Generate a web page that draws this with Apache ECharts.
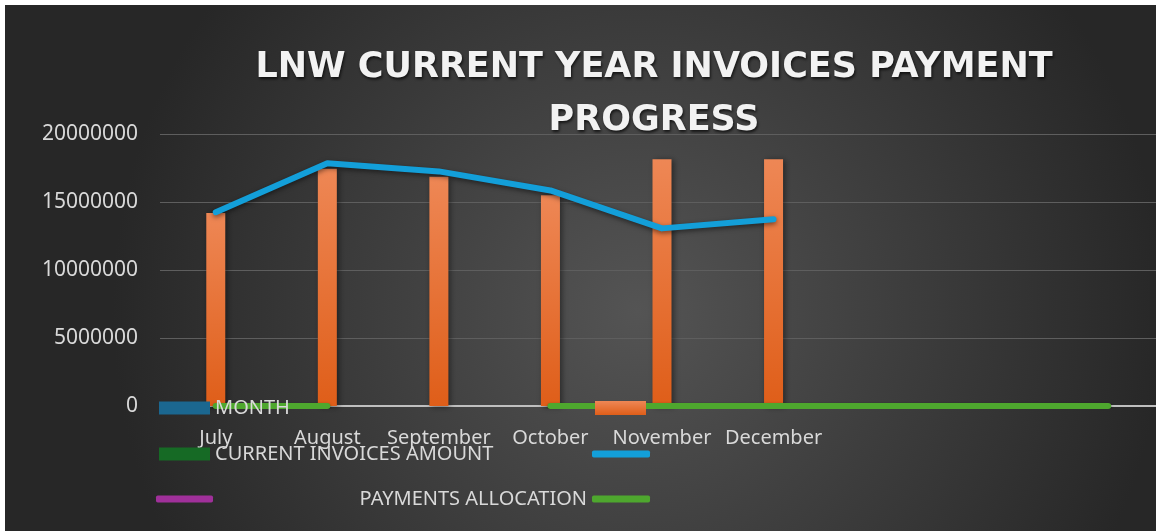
<!DOCTYPE html>
<html lang="en">
  <head>
    <meta charset="UTF-8" />
    <title>LNW Current Year Invoices Payment Progress</title>
    <script src="https://cdn.jsdelivr.net/npm/echarts@6/dist/echarts.min.js"></script>
    <style>
      body { margin: 0; background: #fff; }
      #chart { position: absolute; left: 5px; top: 5px; width: 1151px; height: 526px; }
    </style>
  </head>
  <body>
    <div id="chart"></div>
  </body>
  <script>
    // months (last three slots are empty on the axis)
    let months = ["July", "August", "September", "October", "November", "December", "", "", ""];
    // orange columns
    let invoiceBars = [14200000, 17450000, 16850000, 15500000, 18150000, 18150000];
    // blue line
    let invoiceLine = [14250000, 17850000, 17250000, 15850000, 13060000, 13730000];
    // green line, sits on zero
    let paymentsAllocation = [0, 0, null, 0, 0, 0, 0, 0, 0];
    let yTicks = { min: 0, max: 20000000, step: 5000000 };

    let txt = "#d9d9d9";
    let font = "Noto Sans";

    // legend block: one legend per entry so we can place them like the original
    function legendItem(name, icon, left, top, w, h, showText, extra) {
      return Object.assign(
        {
          data: [{ name: name, icon: icon }],
          left: left,
          top: top,
          padding: 0,
          itemWidth: w,
          itemHeight: h,
          selectedMode: false,
          formatter: showText ? "{name}" : " ",
          textStyle: { color: txt, fontSize: 20, fontFamily: font, lineHeight: 24 },
        },
        extra || {}
      );
    }

    let chart = echarts.init(document.getElementById("chart"));
    let option = {
      backgroundColor: {
        type: "radial",
        x: 0.55,
        y: 0.58,
        r: 1.0,
        colorStops: [
          { offset: 0, color: "#545454" },
          { offset: 1, color: "#272727" },
        ],
      },
      animation: false,
      title: {
        text: "LNW CURRENT YEAR INVOICES PAYMENT\nPROGRESS",
        left: 649,
        top: 36,
        padding: 0,
        textAlign: "center",
        textStyle: {
          color: "#f2f2f2",
          fontSize: 35,
          fontWeight: "bold",
          fontFamily: "DejaVu Sans",
          lineHeight: 53,
          textShadowColor: "rgba(0,0,0,0.7)",
          textShadowBlur: 3,
          textShadowOffsetX: 1,
          textShadowOffsetY: 2,
        },
      },
      legend: [
        legendItem("MONTH", "rect", 154, 391, 51, 13, true),
        legendItem("CURRENT INVOICES AMOUNT", "rect", 154, 437, 51, 13, true),
        legendItem("magenta", "roundRect", 151, 482, 57, 7, false),
        legendItem("orange", "rect", 590, 391, 51, 14, false),
        legendItem("blue", "roundRect", 587, 437, 58, 7, false),
        legendItem("PAYMENTS ALLOCATION", "roundRect", null, 482, 58, 7, true, {
          left: null,
          right: 506,
          align: "right",
        }),
      ],
      grid: {
        left: 155,
        top: 129,
        width: 1004,
        height: 272,
        containLabel: false,
        outerBoundsMode: "none",
      },
      xAxis: {
        type: "category",
        data: months,
        axisTick: { show: false },
        axisLine: { lineStyle: { color: "#bfbfbf", width: 2 } },
        axisLabel: { color: txt, fontSize: 20, fontFamily: font, margin: 22, interval: 0 },
      },
      yAxis: {
        type: "value",
        min: yTicks.min,
        max: yTicks.max,
        interval: yTicks.step,
        axisLine: { show: false },
        axisTick: { show: false },
        splitLine: { lineStyle: { color: "#5e5e5e", width: 1.2 } },
        axisLabel: {
          color: txt,
          fontSize: 21,
          fontFamily: font,
          margin: 22,
          formatter: (v) => String(v),
        },
      },
      series: [
        {
          name: "MONTH",
          type: "bar",
          barWidth: 19,
          barGap: "-100%",
          itemStyle: { color: "#1b6790" },
          data: [],
        },
        {
          name: "orange",
          type: "bar",
          barWidth: 19,
          barGap: "-100%",
          itemStyle: {
            color: {
              type: "linear",
              x: 0, y: 0, x2: 0, y2: 1,
              colorStops: [
                { offset: 0, color: "#ee8755" },
                { offset: 1, color: "#df5e19" },
              ],
            },
            shadowColor: "rgba(0,0,0,0.45)",
            shadowBlur: 6,
            shadowOffsetX: 2,
            shadowOffsetY: 1,
          },
          data: invoiceBars,
        },
        {
          name: "CURRENT INVOICES AMOUNT",
          type: "bar",
          barWidth: 19,
          barGap: "-100%",
          itemStyle: { color: "#166a25" },
          data: [],
        },
        {
          name: "blue",
          type: "line",
          showSymbol: false,
          symbol: "none",
          itemStyle: { color: "#139fd9" },
          lineStyle: {
            color: "#139fd9",
            width: 6,
            cap: "round",
            join: "round",
            shadowColor: "rgba(0,0,0,0.5)",
            shadowBlur: 5,
            shadowOffsetY: 2,
          },
          data: invoiceLine,
        },
        {
          name: "magenta",
          type: "line",
          symbol: "none",
          itemStyle: { color: "#a0309a" },
          lineStyle: { color: "#a0309a", width: 6 },
          data: [],
        },
        {
          name: "PAYMENTS ALLOCATION",
          type: "line",
          symbol: "none",
          connectNulls: false,
          itemStyle: { color: "#4ea72e" },
          lineStyle: {
            color: "#4ea72e",
            width: 6,
            cap: "round",
            shadowColor: "rgba(0,0,0,0.4)",
            shadowBlur: 3,
            shadowOffsetY: 1,
          },
          data: paymentsAllocation,
        },
      ],
    };
    chart.setOption(option);
  </script>
</html>
